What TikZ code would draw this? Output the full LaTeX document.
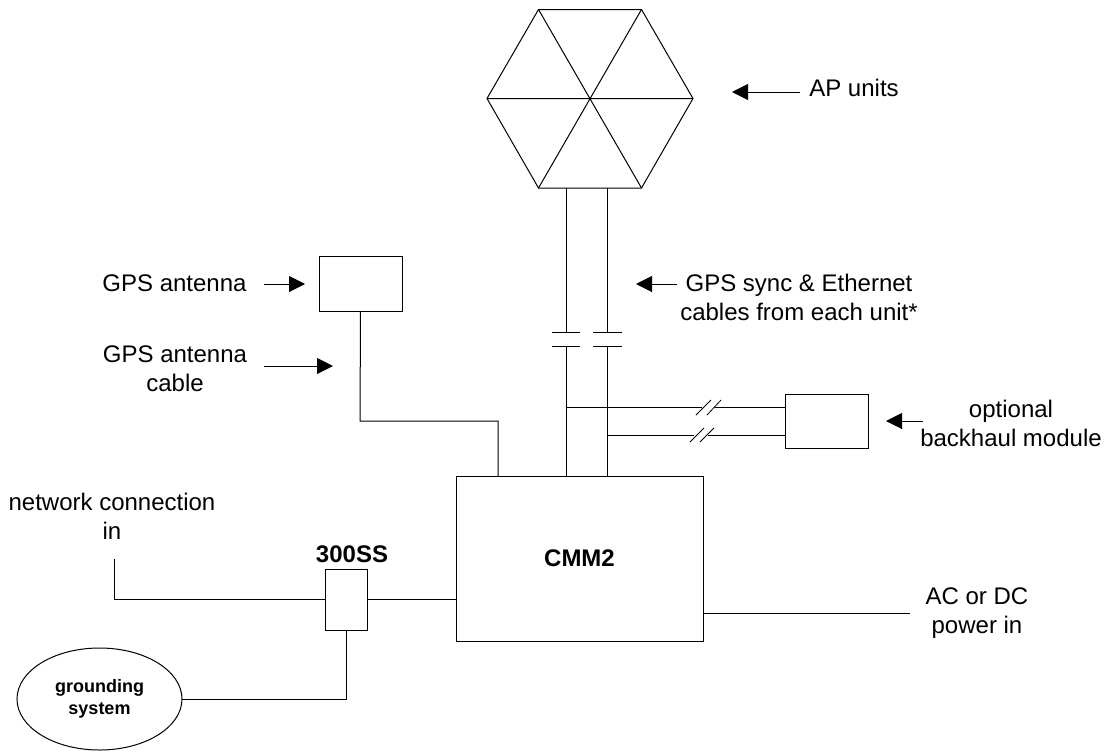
\documentclass[tikz,border=0pt]{standalone}
\usepackage{fontspec}
\setmainfont{Liberation Sans}
\usetikzlibrary{arrows.meta,shapes.geometric}
\tikzset{
  x=0.75pt,y=-0.75pt,
  wire/.style={draw=black,line width=0.75pt},
  boxn/.style={draw=black,line width=0.75pt,inner sep=0pt,outer sep=0pt,anchor=north west},
  lab/.style={align=center,font=\fontsize{18}{21.75}\selectfont,inner sep=0pt},
  boldlab/.style={font=\fontsize{18}{21.75}\selectfont\bfseries,inner sep=0pt},
  pointer/.style={draw=black,line width=0.75pt,-{Triangle[length=12pt,width=12pt]}},
  slash/.style={draw=black,line width=0.6pt}
}
\begin{document}
\begin{tikzpicture}
\useasboundingbox (0,0) rectangle (1110,751);
\fill[white] (0,0) rectangle (1110,751);
% hexagon
\coordinate (h1) at (487,98.5);
\coordinate (h2) at (538.5,9.5);
\coordinate (h3) at (641.5,9.5);
\coordinate (h4) at (693,98.5);
\coordinate (h5) at (641.5,188);
\coordinate (h6) at (538.5,188);
\draw[wire] (h1)--(h2)--(h3)--(h4)--(h5)--(h6)--cycle;
\draw[wire] (h1)--(h4) (h2)--(h5) (h3)--(h6);
% boxes
\node[boxn,minimum width=247.5*0.75pt,minimum height=165*0.75pt] (cmm) at (456,476) {};
\node[boldlab] (cmmt) at (579.5,558) {CMM2};
\node[boxn,minimum width=83*0.75pt,minimum height=55*0.75pt] (gpsbox) at (319,256) {};
\node[boxn,minimum width=83*0.75pt,minimum height=54*0.75pt] (bh) at (785.5,394) {};
\node[boxn,minimum width=42*0.75pt,minimum height=61*0.75pt] (ss) at (325,569) {};
\node[draw=black,line width=0.75pt,ellipse,outer sep=0pt,minimum width=165*0.75pt,minimum height=102*0.75pt,inner sep=0pt,align=center,font=\fontsize{13.5}{16.5}\selectfont\bfseries] (gnd) at (99.5,699) {grounding\\system};
% vertical cables
\coordinate (a1) at (566,188); \coordinate (a2) at (566,332); \coordinate (a3) at (566,346); \coordinate (a4) at (566,476);
\coordinate (b1) at (607,188); \coordinate (b2) at (607,332); \coordinate (b3) at (607,346); \coordinate (b4) at (607,476);
\draw[wire] (a1)--(a2) (a3)--(a4) (b1)--(b2) (b3)--(b4);
\draw[wire] (552,332)--(580,332) (552,346)--(580,346) (593,332)--(622,332) (593,346)--(622,346);
% backhaul
\coordinate (u1) at (566,407.5); \coordinate (u2) at (702,407.5); \coordinate (u3) at (715,407.5); \coordinate (u4) at (785.5,407.5);
\coordinate (l1) at (607,435); \coordinate (l2) at (694,435); \coordinate (l3) at (708,435); \coordinate (l4) at (785.5,435);
\draw[wire] (u1)--(u2) (u3)--(u4) (l1)--(l2) (l3)--(l4);
\draw[slash] (696,415)--(711,400) (707,415)--(721,400);
\draw[slash] (690,442)--(704,428) (700,442)--(714,428);
% GPS cable
\coordinate (g2) at (360,421); \coordinate (g3) at (498,421); \coordinate (g4) at (498,476);
\draw[wire] (gpsbox.south)--(g2)--(g3)--(g4);
% others
\coordinate (n0) at (114.5,559);
\coordinate (n1) at (114.5,599.5);
\draw[wire] (n0)--(n1)--(ss.west);
\draw[wire] (ss.east)--(cmm.west |- ss.east);
\draw[wire] (ss.south) |- (gnd.east);
\coordinate (p1) at (703.5,613.5); \coordinate (p2) at (910,613.5);
\draw[wire] (p1)--(p2);
% pointers
\coordinate (pa0) at (800,92); \coordinate (pa1) at (732,92);
\coordinate (pb0) at (677,284); \coordinate (pb1) at (636,284);
\coordinate (pc0) at (264,284); \coordinate (pc1) at (305,284);
\coordinate (pd0) at (264,366); \coordinate (pd1) at (333,366);
\coordinate (pe0) at (923,421); \coordinate (pe1) at (886,421);
\draw[pointer] (pa0)--(pa1);
\draw[pointer] (pb0)--(pb1);
\draw[pointer] (pc0)--(pc1);
\draw[pointer] (pd0)--(pd1);
\draw[pointer] (pe0)--(pe1);
% labels
\node[lab] (t1) at (854,88) {AP units};
\node[lab] (t2) at (799,297.5) {GPS sync \& Ethernet\\cables from each unit*};
\node[lab] (t3) at (174.5,283) {GPS antenna};
\node[lab] (t4) at (175,369) {GPS antenna\\cable};
\node[lab] (t5) at (1011,423.5) {optional\\backhaul module};
\node[lab] (t6) at (112,516.5) {network connection\\in};
\node[lab] (t7) at (977,613.5) {AC or DC\\power in};
\node[boldlab] (t8) at (352,554) {300SS};
\end{tikzpicture}
\end{document}
